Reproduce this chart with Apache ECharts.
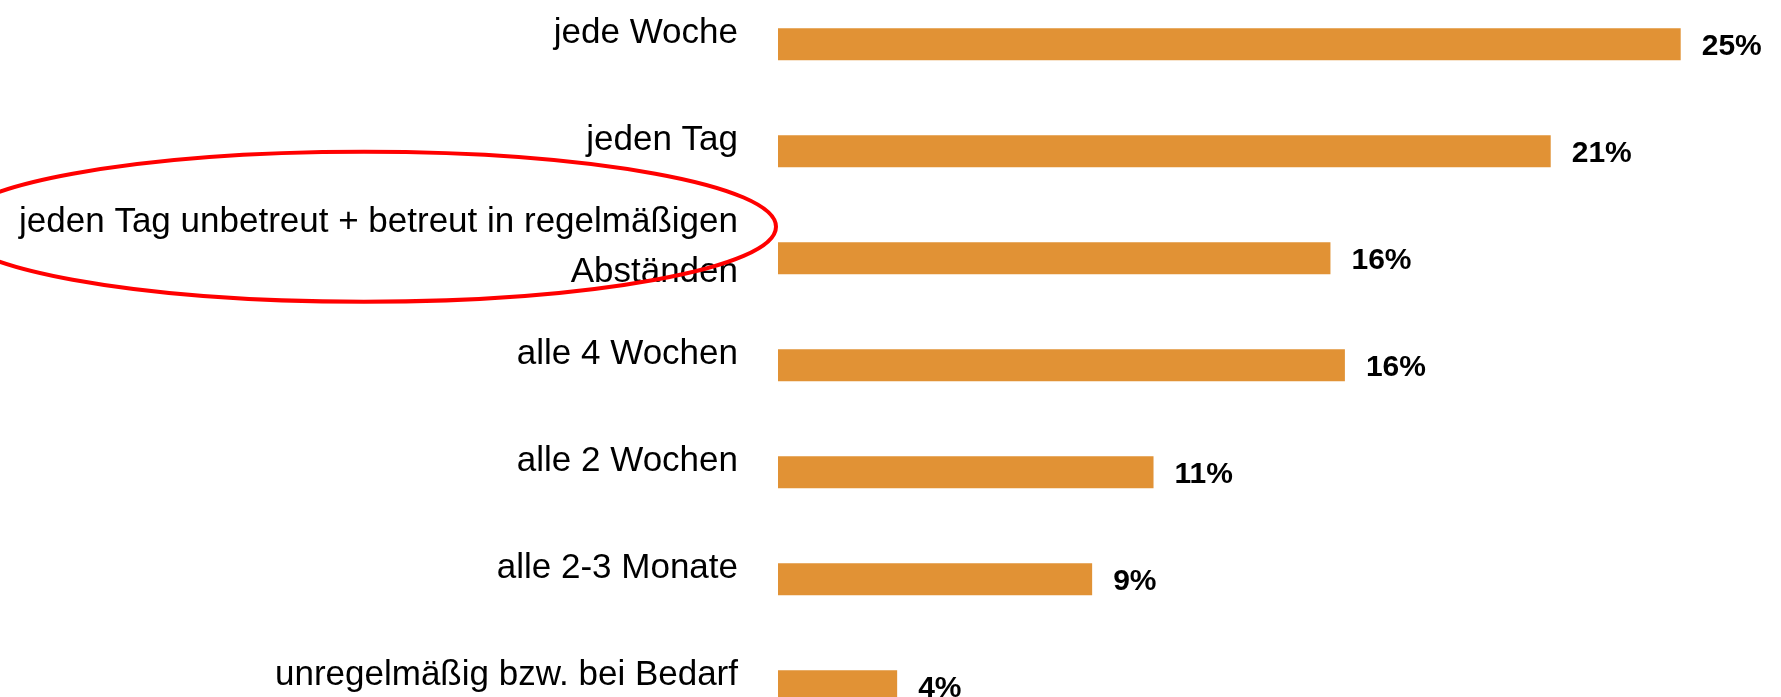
<!DOCTYPE html>
<html>
<head>
<meta charset="utf-8">
<script src="https://cdn.jsdelivr.net/npm/echarts@6/dist/echarts.min.js"></script>
<style>
  html, body { margin: 0; padding: 0; background: #ffffff; overflow: hidden; width: 1781px; height: 697px; }
  #chart { position: absolute; left: 0; top: -40px; width: 1781px; height: 820px; }
</style>
</head>
<body>
<div id="chart"></div>
<script>
// Categories (top to bottom)
const categories = [
  'jede Woche',
  'jeden Tag',
  'jeden Tag unbetreut + betreut in regelmäßigen\nAbständen',
  'alle 4 Wochen',
  'alle 2 Wochen',
  'alle 2-3 Monate',
  'unregelmäßig bzw. bei Bedarf'
];
// Bar lengths (percent)
const values = [25.0, 21.4, 15.3, 15.7, 10.4, 8.7, 3.3];
// Printed value labels
const valueLabels = ['25%', '21%', '16%', '16%', '11%', '9%', '4%'];
// Index of the highlighted (circled) category
const highlightIndex = 2;

const chart = echarts.init(document.getElementById('chart'), null, { renderer: 'canvas' });

const FONT = '"Liberation Sans", Arial, sans-serif';
const GRID_TOP = 30.7;     // in div coordinates (div is shifted up 40px)
const GRID_H = 749;
const LABEL_SHIFT = 10.5;  // category labels sit a little above their bars

const option = {
  backgroundColor: '#ffffff',
  animation: false,
  grid: [
    { left: 778, width: 902.7, top: GRID_TOP, height: GRID_H, containLabel: false },
    { left: 778, width: 902.7, top: GRID_TOP - LABEL_SHIFT, height: GRID_H, containLabel: false }
  ],
  xAxis: [
    { type: 'value', gridIndex: 0, min: 0, max: 25, show: false },
    { type: 'value', gridIndex: 1, min: 0, max: 25, show: false }
  ],
  yAxis: [
    {
      type: 'category',
      gridIndex: 0,
      data: categories,
      inverse: true,
      axisLine: { show: false },
      axisTick: { show: false },
      splitLine: { show: false },
      axisLabel: { show: false }
    },
    {
      type: 'category',
      gridIndex: 1,
      data: categories,
      inverse: true,
      axisLine: { show: false },
      axisTick: { show: false },
      splitLine: { show: false },
      axisLabel: {
        show: true,
        margin: 40,
        color: '#000000',
        fontFamily: FONT,
        fontSize: 35,
        lineHeight: 50,
        align: 'right'
      }
    }
  ],
  series: [{
    type: 'bar',
    xAxisIndex: 0,
    yAxisIndex: 0,
    data: values,
    barWidth: 32,
    itemStyle: { color: '#E19235' },
    label: {
      show: true,
      position: 'right',
      distance: 21,
      offset: [0, 3],
      color: '#000000',
      fontFamily: FONT,
      fontWeight: 'bold',
      fontSize: 30,
      formatter: function (p) { return valueLabels[p.dataIndex]; }
    }
  }]
};

chart.setOption(option);

// Red ellipse around the highlighted category label
const cy = chart.convertToPixel({ yAxisIndex: 0 }, categories[highlightIndex]);
chart.setOption({
  graphic: [{
    type: 'ellipse',
    shape: { cx: 364, cy: cy - 31.5, rx: 412, ry: 75 },
    style: { fill: 'none', stroke: '#FF0000', lineWidth: 4 },
    z: 100,
    silent: true
  }]
});
</script>
</body>
</html>
